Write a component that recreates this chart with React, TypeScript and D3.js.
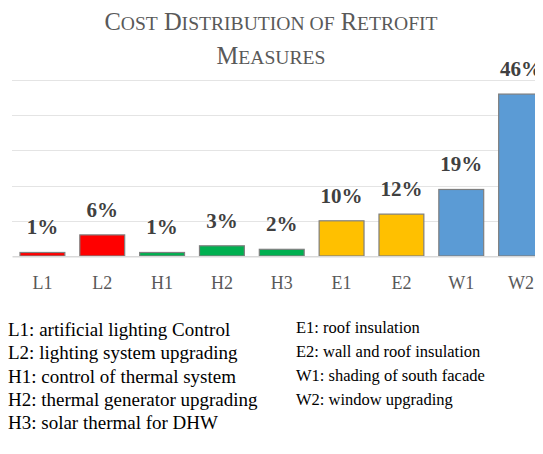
import * as d3 from "d3";
import { useEffect, useRef } from "react";

// measures and their share of the total cost
const measures = ["L1", "L2", "H1", "H2", "H3", "E1", "E2", "W1", "W2"];
const shares = [0.01, 0.06, 0.01, 0.029, 0.019, 0.1, 0.119, 0.189, 0.46];
const groups = ["L", "L", "H", "H", "H", "E", "E", "W", "W"];
const yTicks = [0, 0.1, 0.2, 0.3, 0.4, 0.5];

const titleLines = ["Cost Distribution of Retrofit", "Measures"];

const legendLeft = [
  "L1: artificial lighting Control",
  "L2: lighting system upgrading",
  "H1: control of thermal system",
  "H2: thermal generator upgrading",
  "H3: solar thermal for DHW",
];
const legendRight = [
  "E1: roof insulation",
  "E2: wall and roof insulation",
  "W1: shading of south facade",
  "W2: window upgrading",
];

const groupColor = { L: "#ff0000", H: "#00b050", E: "#ffc000", W: "#5b9bd5" };

const App = () => {
  const ref = useRef<HTMLDivElement>(null);

  useEffect(() => {
    d3.select(ref.current).select("svg").remove();

    const W = 543, H = 454;
    const serif = "'Liberation Serif', 'Times New Roman', serif";

    const svg = d3
      .select(ref.current)
      .append("svg")
      .attr("width", W)
      .attr("height", H)
      .style("display", "block")
      .style("font-family", serif);

    svg.append("rect").attr("width", W).attr("height", H).attr("fill", "#fff");

    // title, small caps done by hand (capital letters big, the rest at 80%)
    const big = 24.5, small = big * 0.8;
    titleLines.forEach((line, li) => {
      const t = svg
        .append("text")
        .attr("x", 271)
        .attr("y", 30 + li * 34)
        .attr("text-anchor", "middle")
        .attr("fill", "#595959")
        .attr("font-size", big);
      line.split(" ").forEach((word, wi) => {
        const parts = word.match(/[A-Z]+|[^A-Z]+/g) || [];
        parts.forEach((p, pi) => {
          const isCap = /[A-Z]/.test(p);
          t.append("tspan")
            .attr("font-size", isCap ? big : small)
            .text((wi > 0 && pi === 0 ? " " : "") + p.toUpperCase());
        });
      });
    });

    const x = d3
      .scaleBand()
      .domain(measures)
      .range([12.5, 551])
      .paddingInner(0.25)
      .paddingOuter(0.125);

    const y = d3.scaleLinear().domain([0, 0.5]).range([256, 80]);

    // gridlines
    svg
      .append("g")
      .selectAll("line")
      .data(yTicks.slice(1))
      .join("line")
      .attr("x1", 12.5)
      .attr("x2", W)
      .attr("y1", (d) => Math.round(y(d)) + 0.5)
      .attr("y2", (d) => Math.round(y(d)) + 0.5)
      .attr("stroke", "#c8c8c8")
      .attr("stroke-dasharray", "1,1");

    // bars
    svg
      .append("g")
      .selectAll("rect")
      .data(shares)
      .join("rect")
      .attr("x", (d, i) => x(measures[i]))
      .attr("y", (d) => y(d))
      .attr("width", x.bandwidth())
      .attr("height", (d) => y(0) - y(d))
      .attr("fill", (d, i) => groupColor[groups[i]])
      .attr("stroke", "#7f7f7f")
      .attr("stroke-width", 1.2);

    // baseline
    svg
      .append("line")
      .attr("x1", 12.5)
      .attr("x2", W)
      .attr("y1", y(0) + 0.75)
      .attr("y2", y(0) + 0.75)
      .attr("stroke", "#d9d9d9")
      .attr("stroke-width", 1.5);

    // value labels
    svg
      .append("g")
      .selectAll("text")
      .data(shares)
      .join("text")
      .attr("x", (d, i) => x(measures[i]) + x.bandwidth() / 2)
      .attr("y", (d) => y(d) - 18)
      .attr("text-anchor", "middle")
      .attr("font-size", 21)
      .attr("font-weight", "bold")
      .attr("fill", "#404040")
      .text((d) => d3.format(".0%")(d));

    // category axis
    svg
      .append("g")
      .selectAll("text")
      .data(measures)
      .join("text")
      .attr("x", (d) => x(d) + x.bandwidth() / 2)
      .attr("y", 289)
      .attr("text-anchor", "middle")
      .attr("font-size", 18)
      .attr("fill", "#595959")
      .text((d) => d);

    // legend
    svg
      .append("g")
      .selectAll("text")
      .data(legendLeft)
      .join("text")
      .attr("x", 8)
      .attr("y", (d, i) => 336 + i * 23.3)
      .attr("font-size", 19)
      .attr("fill", "#000")
      .text((d) => d);

    svg
      .append("g")
      .selectAll("text")
      .data(legendRight)
      .join("text")
      .attr("x", 296)
      .attr("y", (d, i) => 333 + i * 24)
      .attr("font-size", 16.5)
      .attr("fill", "#000")
      .text((d) => d);
  }, []);

  return <div ref={ref} style={{ margin: -8 }} />;
};

export default App;
